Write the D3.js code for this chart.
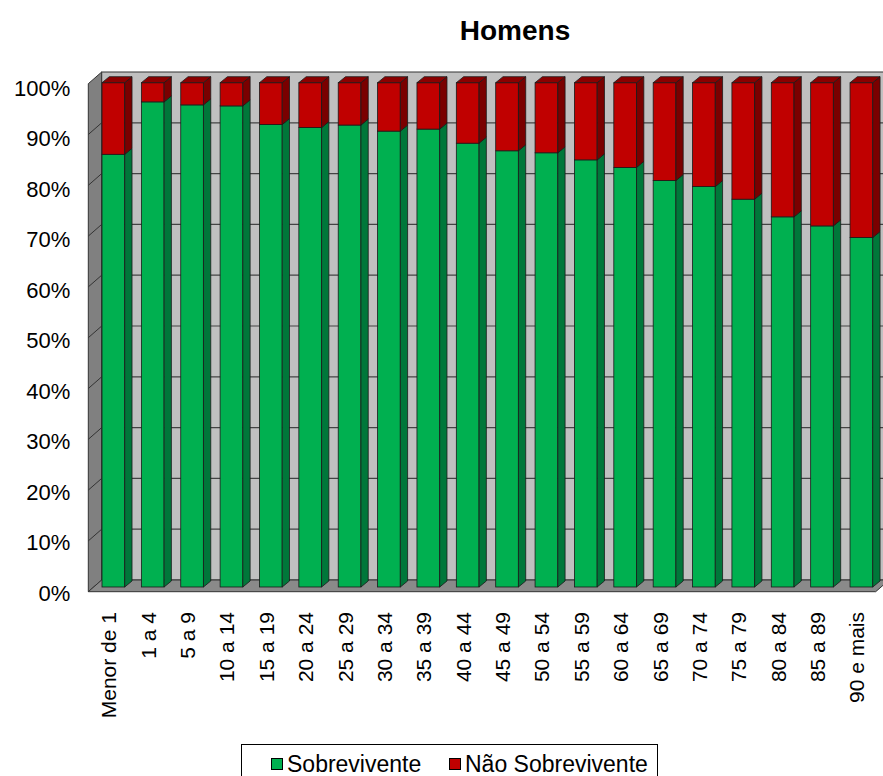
<!DOCTYPE html>
<html>
<head>
<meta charset="utf-8">
<script src="https://cdn.jsdelivr.net/npm/d3@7/dist/d3.min.js"></script>
<style>
  html, body { margin: 0; padding: 0; background: #fff; }
  svg { display: block; font-family: Arial, "Liberation Sans", sans-serif; }
</style>
</head>
<body>
<svg id="chart" width="883" height="776"></svg>
<script>
const categories = ["Menor de 1","1 a 4","5 a 9","10 a 14","15 a 19","20 a 24","25 a 29","30 a 34","35 a 39","40 a 44","45 a 49","50 a 54","55 a 59","60 a 64","65 a 69","70 a 74","75 a 79","80 a 84","85 a 89","90 e mais"];
const sobrevivente = [85.8, 96.2, 95.6, 95.4, 91.7, 91.1, 91.6, 90.4, 90.8, 88.0, 86.5, 86.1, 84.7, 83.2, 80.6, 79.4, 76.9, 73.4, 71.6, 69.3];
const naoSobrevivente = [14.2, 3.8, 4.4, 4.6, 8.3, 8.9, 8.4, 9.6, 9.2, 12.0, 13.5, 13.9, 15.3, 16.8, 19.4, 20.6, 23.1, 26.6, 28.4, 30.7];
const seriesNames = ["Sobrevivente", "Não Sobrevivente"];
const yTicks = [0,10,20,30,40,50,60,70,80,90,100];
const title = "Homens";

const svg = d3.select("#chart");

// geometry
const frontLeft = 88.3, pitch = 39.37;
const depthX = 13.4, depthY = 11.7;
const x = d3.scaleBand().domain(categories).range([frontLeft, frontLeft + pitch * categories.length]).padding(0);
const yBack = d3.scaleLinear().domain([0,100]).range([580, 72]);
const yFront = d3.scaleLinear().domain([0,100]).range([580 + depthY, 72 + depthY]);
const yBar = d3.scaleLinear().domain([0,100]).range([587, 82.7]);
const barOff = 0.348, barW = 0.577, barDx = 7.3, barDy = 6;

const backL = frontLeft + depthX, backR = x.range()[1] + depthX;

// left wall
svg.append("polygon")
  .attr("points", [[frontLeft, yFront(100)],[backL, yBack(100)],[backL, yBack(0)],[frontLeft, yFront(0)]].join(" "))
  .attr("fill", "#808080").attr("stroke", "#333").attr("stroke-width", 1);
// back wall
svg.append("rect")
  .attr("x", backL).attr("y", yBack(100)).attr("width", backR - backL).attr("height", yBack(0) - yBack(100))
  .attr("fill", "#C0C0C0").attr("stroke", "#333").attr("stroke-width", 1);
// floor
svg.append("polygon")
  .attr("points", [[frontLeft, yFront(0)],[backL, yBack(0)],[backR, yBack(0)],[x.range()[1], yFront(0)]].join(" "))
  .attr("fill", "#8A8A8A").attr("stroke", "#333").attr("stroke-width", 1);

// gridlines
const grid = svg.append("g");
yTicks.filter(t => t > 0 && t < 100).forEach(t => {
  grid.append("line").attr("x1", backL).attr("x2", backR).attr("y1", yBack(t)).attr("y2", yBack(t))
    .attr("stroke", "#444").attr("stroke-width", 1.2);
  grid.append("line").attr("x1", frontLeft).attr("x2", backL).attr("y1", yFront(t)).attr("y2", yBack(t))
    .attr("stroke", "#333").attr("stroke-width", 1);
});

// y axis
const yAxis = d3.axisLeft(d3.scaleLinear().domain([0,100]).range([yFront(0)+1.5, yFront(100)+4.5]))
  .tickValues(yTicks).tickSize(0).tickPadding(18).tickFormat(d => d + "%");
svg.append("g").attr("transform", `translate(${frontLeft},0)`).call(yAxis)
  .call(g => g.select(".domain").remove())
  .selectAll("text").attr("font-size", 22).attr("fill", "#000").attr("font-family", "Arial, 'Liberation Sans', sans-serif");

// bars
const colors = {
  front: ["#00B050", "#C00000"],
  side: ["#00773A", "#7A0000"],
  top: ["#00903F", "#8C0000"]
};
const stroke = "#1a1a1a";
categories.forEach((c, i) => {
  const x0 = x(c) + barOff * x.bandwidth();
  const w = barW * x.bandwidth();
  const segs = [[0, sobrevivente[i]], [sobrevivente[i], sobrevivente[i] + naoSobrevivente[i]]];
  const g = svg.append("g");
  segs.forEach((s, k) => {
    const yt = yBar(s[1]), yb = yBar(s[0]);
    g.append("rect").attr("x", x0).attr("y", yt).attr("width", w).attr("height", yb - yt)
      .attr("fill", colors.front[k]).attr("stroke", stroke).attr("stroke-width", 0.8);
    g.append("polygon").attr("points", [[x0+w, yt],[x0+w+barDx, yt-barDy],[x0+w+barDx, yb-barDy],[x0+w, yb]].join(" "))
      .attr("fill", colors.side[k]).attr("stroke", stroke).attr("stroke-width", 0.8);
    if (k === segs.length - 1) {
      g.append("polygon").attr("points", [[x0, yt],[x0+barDx, yt-barDy],[x0+w+barDx, yt-barDy],[x0+w, yt]].join(" "))
        .attr("fill", colors.top[k]).attr("stroke", stroke).attr("stroke-width", 0.8);
    }
  });
});

// x axis
const xAxis = d3.axisBottom(x).tickSize(0).tickPadding(0);
svg.append("g").attr("transform", `translate(1,612)`).call(xAxis)
  .call(g => g.select(".domain").remove())
  .selectAll("text")
  .attr("font-size", 21).attr("fill", "#000").attr("font-family", "Arial, 'Liberation Sans', sans-serif")
  .attr("transform", "rotate(-90)")
  .attr("text-anchor", "end")
  .attr("x", 0).attr("y", 0).attr("dy", "0.35em");

// title
svg.append("text").attr("x", 515).attr("y", 40).attr("text-anchor", "middle")
  .attr("font-size", 28).attr("font-weight", "bold").text(title);

// legend
const lg = svg.append("g");
lg.append("rect").attr("x", 241.5).attr("y", 744.5).attr("width", 416).attr("height", 40)
  .attr("fill", "#fff").attr("stroke", "#000").attr("stroke-width", 1);
const legendX = [271, 449];
seriesNames.forEach((n, k) => {
  lg.append("rect").attr("x", legendX[k] + 0.5).attr("y", 758.5).attr("width", 11).attr("height", 11)
    .attr("fill", colors.front[k]).attr("stroke", "#000").attr("stroke-width", 1);
  lg.append("text").attr("x", legendX[k] + 16).attr("y", 771.5).attr("font-size", 23).text(n);
});
</script>
</body>
</html>
